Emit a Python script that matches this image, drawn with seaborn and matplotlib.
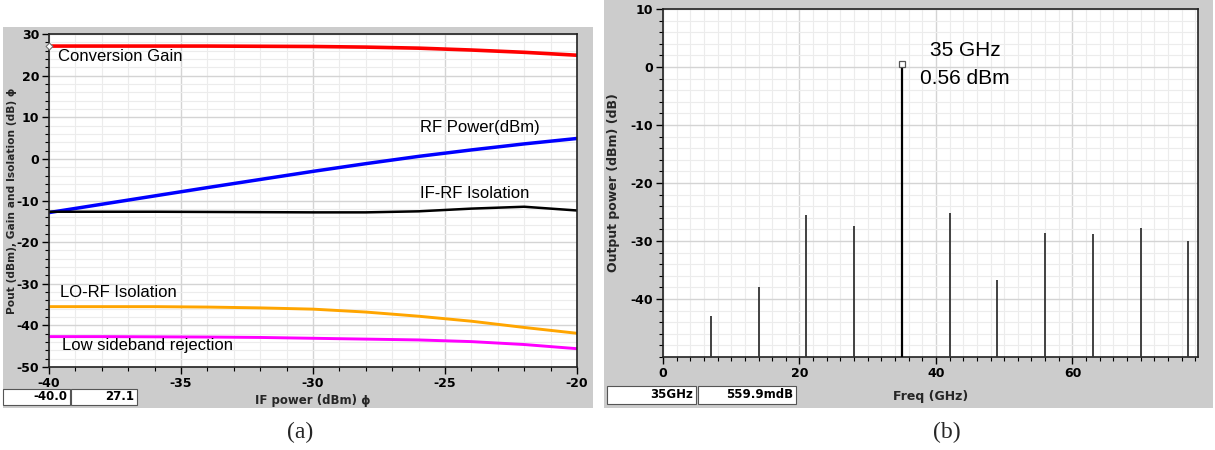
import numpy as np
import pandas as pd
import matplotlib
matplotlib.use("Agg")
import matplotlib.pyplot as plt
import seaborn as sns
from matplotlib.patches import Rectangle
from matplotlib.ticker import MultipleLocator

# ---------------- data ----------------
if_power = [-40, -38, -36, -34, -32, -30, -28, -26, -24, -22, -20]
conv_gain = [27.1, 27.1, 27.1, 27.1, 27.05, 27.0, 26.85, 26.6, 26.15, 25.6, 24.9]
rf_power = [-12.9, -10.9, -8.9, -6.9, -4.95, -3.0, -1.15, 0.6, 2.15, 3.6, 4.9]
if_rf_iso = [-12.7, -12.7, -12.7, -12.75, -12.8, -12.85, -12.85, -12.6, -11.95, -11.5, -12.4]
lo_rf_iso = [-35.5, -35.5, -35.5, -35.6, -35.8, -36.1, -36.8, -37.8, -39.0, -40.5, -41.9]
lsb_rej = [-42.7, -42.7, -42.75, -42.8, -42.9, -43.1, -43.3, -43.5, -43.9, -44.6, -45.6]

spur_freq = [7, 14, 21, 28, 35, 42, 49, 56, 63, 70, 77]
spur_power = [-42.9, -37.9, -25.6, -27.4, 0.56, -25.1, -36.8, -28.6, -28.8, -27.7, -30.0]

left_xticks = [-40, -35, -30, -25, -20]
left_yticks = [30, 20, 10, 0, -10, -20, -30, -40, -50]
right_xticks = [0, 20, 40, 60]
right_yticks = [10, 0, -10, -20, -30, -40]

# ---------------- style ----------------
sns.set_theme(style="white")
plt.rcParams['font.family'] = ['DejaVu Sans']
plt.rcParams['axes.unicode_minus'] = False

W, H = 1215, 450
fig = plt.figure(figsize=(W / 100, H / 100), dpi=100)


def px_rect(x0, y0, x1, y1):
    return [x0 / W, 1 - y1 / H, (x1 - x0) / W, (y1 - y0) / H]


FRAME = '#cccccc'
# gray instrument frames
for r in (px_rect(3, 27, 593, 408), px_rect(604, 0, 1213, 408)):
    fig.add_artist(Rectangle((r[0], r[1]), r[2], r[3], transform=fig.transFigure,
                             facecolor=FRAME, edgecolor='none', zorder=-5))

ax1 = fig.add_axes(px_rect(49, 34, 577, 367))
ax2 = fig.add_axes(px_rect(663, 9, 1198, 357))


def style_axes(ax, xmaj, xmin, ymaj, ymin):
    ax.set_facecolor('white')
    ax.xaxis.set_major_locator(MultipleLocator(xmaj))
    ax.xaxis.set_minor_locator(MultipleLocator(xmin))
    ax.yaxis.set_major_locator(MultipleLocator(ymaj))
    ax.yaxis.set_minor_locator(MultipleLocator(ymin))
    ax.grid(True, which='major', color='#d4d4d4', linewidth=1.0)
    ax.grid(True, which='minor', color='#ececec', linewidth=0.8)
    ax.set_axisbelow(True)
    ax.tick_params(which='major', direction='out', length=5, width=1, colors='black',
                   labelsize=9, bottom=True, left=True, pad=2)
    ax.tick_params(which='minor', direction='out', length=3, width=0.8, colors='black',
                   bottom=True, left=True)
    for s in ax.spines.values():
        s.set_visible(True)
        s.set_color('#222222')
        s.set_linewidth(1.2)


def bold_ticks(ax):
    for lab in ax.get_xticklabels() + ax.get_yticklabels():
        lab.set_fontweight('bold')


# ---------------- panel (a) ----------------
series = [
    (conv_gain, '#ff0000', 2.6),
    (rf_power, '#0000ff', 2.5),
    (if_rf_iso, '#000000', 1.8),
    (lo_rf_iso, '#ffa500', 2.1),
    (lsb_rej, '#ff00ff', 2.1),
]
for vals, col, lw in series:
    sns.lineplot(x=if_power, y=vals, ax=ax1, color=col, linewidth=lw, legend=False)
ax1.plot([if_power[0]], [conv_gain[0]], marker='D', markersize=3.5, markerfacecolor='white',
         markeredgecolor='#777777', markeredgewidth=0.8, clip_on=False, zorder=5)

ax1.set_xlim(-40, -20)
ax1.set_ylim(-50, 30)
style_axes(ax1, 5, 1, 10, 2)
ax1.set_xticks(left_xticks)
ax1.set_yticks(left_yticks)
bold_ticks(ax1)

LBL = dict(fontsize=12, family=['Liberation Sans', 'DejaVu Sans'], color='black', va='center', ha='left')
ax1.text(-39.65, 24.5, 'Conversion Gain', **LBL)
ax1.text(-25.95, 7.6, 'RF Power(dBm)', **LBL)
ax1.text(-25.95, -8.2, 'IF-RF Isolation', **LBL)
ax1.text(-39.6, -32.0, 'LO-RF Isolation', **LBL)
ax1.text(-39.5, -44.8, 'Low sideband rejection', **LBL)

ax1.set_xlabel('IF power (dBm) ϕ', fontsize=8.5, fontweight='bold')
ax1.set_ylabel('Pout (dBm), Gain and Isolation (dB) ϕ', fontsize=7.7, fontweight='bold')
ax1.xaxis.set_label_coords(0.5, -0.082)
ax1.yaxis.set_label_coords(-0.060, 0.5)

# ---------------- panel (b) ----------------
ax2.set_xlim(0, 78.4)
ax2.set_ylim(-50, 10)
style_axes(ax2, 20, 2, 10, 2)
ax2.set_xticks(right_xticks)
ax2.set_yticks(right_yticks)
bold_ticks(ax2)

colors = ['#000000' if f == 35 else '#333333' for f in spur_freq]
widths = [1.6 if f == 35 else 1.3 for f in spur_freq]
ax2.vlines(spur_freq, -50, spur_power, colors=colors, linewidths=widths, zorder=3)
peak_i = spur_freq.index(35)
ax2.plot([spur_freq[peak_i]], [spur_power[peak_i]], marker='s', markersize=4,
         markerfacecolor='white', markeredgecolor='#555555', markeredgewidth=0.9, zorder=4)
ANN = dict(fontsize=15, family=['Liberation Sans', 'DejaVu Sans'], color='black', ha='center', va='center')
ax2.text(44.3, 2.8, '35 GHz', **ANN)
ax2.text(44.3, -1.9, '0.56 dBm', **ANN)

ax2.set_xlabel('Freq (GHz)', fontsize=9, fontweight='bold')
ax2.set_ylabel('Output power (dBm) (dB)', fontsize=9, fontweight='bold')
ax2.xaxis.set_label_coords(0.5, -0.095)
ax2.yaxis.set_label_coords(-0.08, 0.5)

# ---------------- readout boxes ----------------
BOX = dict(fontsize=8.5, fontweight='bold', ha='right', va='center', color='black')
boxes = [((3, 389, 70, 405), '-40.0'), ((71, 389, 137, 405), '27.1'),
         ((607, 386, 696, 404), '35GHz'), ((698, 386, 796, 404), '559.9mdB')]
for (x0, y0, x1, y1), txt in boxes:
    r = px_rect(x0, y0, x1, y1)
    fig.add_artist(Rectangle((r[0], r[1]), r[2], r[3], transform=fig.transFigure,
                             facecolor='white', edgecolor='#555555', linewidth=0.8, zorder=1))
    fig.text((x1 - 3) / W, 1 - ((y0 + y1) / 2) / H, txt, **BOX)

# ---------------- captions ----------------
CAP = dict(fontsize=17, family=['Liberation Serif', 'DejaVu Serif'], ha='center', va='center')
fig.text(300 / W, 1 - 432 / H, '(a)', **CAP)
fig.text(947 / W, 1 - 432 / H, '(b)', **CAP)

fig.savefig('out.png', dpi=100, facecolor='white')
